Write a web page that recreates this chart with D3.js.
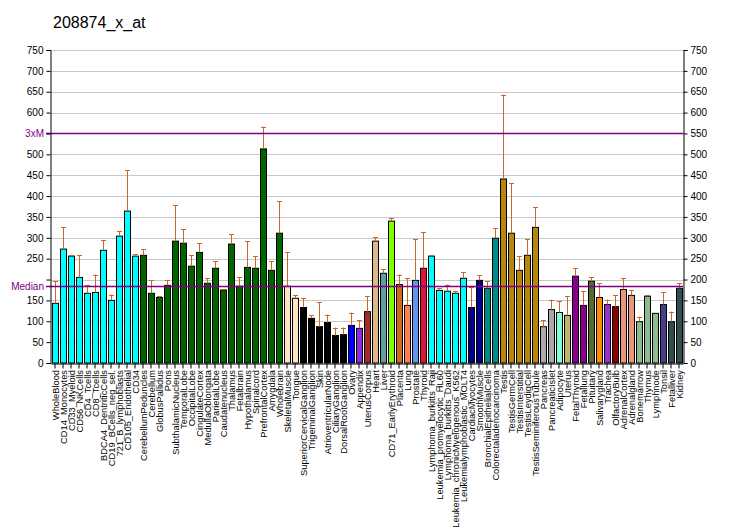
<!DOCTYPE html>
<html lang="en">
<head>
  <meta charset="UTF-8" />
  <title>208874_x_at</title>
  <script src="https://d3js.org/d3.v7.min.js"></script>
  <style>
    body {
      margin: 0;
      background: #fff;
      font-family: "Liberation Sans", Arial, sans-serif;
    }
  </style>
</head>
<body>
  <div id="chart"></div>

  <script>
    const width = 732;
    const height = 530;

    const title = "208874_x_at";

    const tissues = [
      "WholeBlood", "CD14_Monocytes", "CD33_Myeloid", "CD56_NKCells", "CD4_Tcells", "CD8_Tcells",
      "BDCA4_DentriticCells", "CD19_BCells_neg_sel.", "721_B_lymphoblasts", "CD105_Endothelial", "CD34",
      "CerebellumPeduncles", "Cerebellum", "GlobusPallidus", "Pons", "SubthalamicNucleus", "TemporalLobe",
      "OccipitalLobe", "CingulateCortex", "MedullaOblongata", "ParietalLobe", "Caudatenucleus", "Thalamus",
      "Fetalbrain", "Hypothalamus", "Spinalcord", "PrefrontalCortex", "Amygdala", "Wholebrain",
      "SkeletalMuscle", "Tongue", "SuperiorCervicalGanglion", "TrigeminalGanglion", "Skin",
      "AtrioventricularNode", "CiliaryGanglion", "DorsalRootGanglion", "Ovary", "Appendix", "UterusCorpus",
      "Heart", "Liver", "CD71_EarlyErythroid", "Placenta", "Lung", "Prostate", "Thyroid",
      "Lymphoma_burkitts_Raji", "Leukemia_promyelocytic_HL60", "Lymphoma_burkitts_Daudi",
      "Leukemia_chronicMyelogenous_K562", "Leukemialymphoblastic_MOLT4", "CardiacMyocytes", "SmoothMuscle",
      "BronchialEpithelialCells", "Colorectaladenocarcinoma", "Testis", "TestisGermCell", "TestisInterstitial",
      "TestisLeydigCell", "TestisSeminiferousTubule", "Pancreas", "PancreaticIslet", "Adipocyte", "Uterus",
      "FetalThyroid", "Fetallung", "Pituitary", "Salivarygland", "Trachea", "OlfactoryBulb", "AdrenalCortex",
      "Adrenalgland", "Bonemarrow", "Thymus", "Lymphnode", "Tonsil", "Fetalliver", "Kidney"
    ];

    const values = [
      143, 273, 256, 205, 167, 169, 270, 150, 304, 364, 256,
      258, 167, 157, 186, 292, 287, 232, 265, 191, 227, 175, 285,
      184, 229, 227, 513, 222, 311,
      184, 155, 133, 107, 87, 97, 66, 68, 90, 83, 123,
      292, 215, 340, 188, 138, 198, 227,
      256, 174, 172, 167, 203, 133, 198,
      179, 299, 441, 311, 222, 258, 325,
      87, 128, 121, 114, 208, 138, 196, 157, 140, 135, 176,
      162, 99, 160, 119, 140, 99, 179
    ];

    // upper end of each error bar (null = none drawn)
    const errTop = [
      196, 325, 259, 258, 186, 212, 294, 164, 316, 462, 260,
      272, 198, 160, 198, 378, 320, 258, 287, 203, 244, 177, 309,
      205, 292, 256, 566, 244, 388,
      265, 162, 155, 114, 145, 116, 85, 85, 121, 102, 160,
      301, 225, 347, 212, 203, 296, 313,
      258, 179, 188, 172, 217, 181, 210,
      196, 323, 643, 431, 256, 296, 373,
      102, 152, 148, 160, 227, 172, 205, 191, 152, 162, 203,
      174, 111, 162, null, 169, 123, 191
    ];

    const colors = [
      "#00FFFF", "#00FFFF", "#00FFFF", "#00FFFF", "#00FFFF", "#00FFFF", "#00FFFF", "#00FFFF", "#00FFFF", "#00FFFF", "#00FFFF",
      "#006400", "#006400", "#006400", "#006400", "#006400", "#006400", "#006400", "#006400", "#006400", "#006400", "#006400", "#006400",
      "#006400", "#006400", "#006400", "#006400", "#006400", "#006400",
      "#FFE4C4", "#FFE4C4", "#000000", "#000000", "#000000", "#000000", "#000000", "#000000", "#0000FF", "#8A2BE2", "#A52A2A",
      "#DEB887", "#5F9EA0", "#7FFF00", "#D2691E", "#FF7F50", "#6495ED", "#DC143C",
      "#00FFFF", "#00FFFF", "#00FFFF", "#00FFFF", "#00FFFF", "#00008B", "#00008B",
      "#008B8B", "#008B8B", "#B8860B", "#B8860B", "#B8860B", "#B8860B", "#B8860B",
      "#A9A9A9", "#A9A9A9", "#7FFFD4", "#BDB76B", "#8B008B", "#8B008B", "#556B2F", "#FF8C00", "#9932CC", "#8B0000", "#E9967A",
      "#E9967A", "#8FBC8F", "#8FBC8F", "#8FBC8F", "#483D8B", "#2F4F4F", "#2F4F4F"
    ];

    const median = 184;
    const yTicks = [0, 50, 100, 150, 200, 250, 300, 350, 400, 450, 500, 550, 600, 650, 700, 750];

    const margin = { left: 51, right: 49, top: 50, bottom: 167 };
    const plotW = width - margin.left - margin.right;
    const plotBottom = height - margin.bottom;

    const svg = d3.select("#chart")
      .append("svg")
      .attr("width", width)
      .attr("height", height);

    const x = d3.scaleBand()
      .domain(tissues)
      .range([margin.left, margin.left + plotW])
      .paddingInner(0.2)
      .paddingOuter(0.1);

    const y = d3.scaleLinear()
      .domain([0, 750])
      .range([plotBottom, margin.top]);

    // title
    svg.append("text")
      .attr("x", 53)
      .attr("y", 28)
      .attr("font-size", 16)
      .attr("fill", "#000")
      .text(title);

    // grid
    svg.append("g")
      .selectAll("line")
      .data(yTicks.filter(d => d > 0))
      .enter()
      .append("line")
      .attr("x1", margin.left)
      .attr("x2", margin.left + plotW)
      .attr("y1", d => Math.round(y(d)) + 0.5)
      .attr("y2", d => Math.round(y(d)) + 0.5)
      .attr("stroke", "#C8C8C8")
      .attr("stroke-width", 1);

    // bars
    svg.append("g")
      .selectAll("rect")
      .data(tissues)
      .enter()
      .append("rect")
      .attr("x", d => Math.round(x(d)) + 0.5)
      .attr("y", (d, i) => y(values[i]))
      .attr("width", 6)
      .attr("height", (d, i) => plotBottom - y(values[i]))
      .attr("fill", (d, i) => colors[i])
      .attr("stroke", "#000")
      .attr("stroke-width", 1);

    // error bars
    const errG = svg.append("g")
      .attr("stroke", "#C8682C")
      .attr("stroke-width", 1);

    tissues.forEach((name, i) => {
      if (errTop[i] == null) return;
      const cx = Math.round(x(name)) + 3.5;
      errG.append("line")
        .attr("x1", cx).attr("x2", cx)
        .attr("y1", y(values[i])).attr("y2", y(errTop[i]));
      errG.append("line")
        .attr("x1", cx - 2.5).attr("x2", cx + 2.5)
        .attr("y1", Math.round(y(errTop[i])) + 0.5).attr("y2", Math.round(y(errTop[i])) + 0.5);
    });

    // reference lines: median and 3 x median
    const refLines = [
      { label: "Median", v: median },
      { label: "3xM", v: median * 3 }
    ];

    refLines.forEach(r => {
      const yy = Math.round(y(r.v)) + 0.5;
      svg.append("line")
        .attr("x1", margin.left - 5)
        .attr("x2", margin.left + plotW)
        .attr("y1", yy).attr("y2", yy)
        .attr("stroke", "#800080")
        .attr("stroke-width", 1.3);
      svg.append("text")
        .attr("x", margin.left - 7)
        .attr("y", yy + 3.5)
        .attr("text-anchor", "end")
        .attr("font-size", 10)
        .attr("fill", "#800080")
        .text(r.label);
    });

    // left axis (labels near the reference lines are left out)
    const hidden = [200, 550];
    const leftAxis = d3.axisLeft(y)
      .tickValues(yTicks)
      .tickSize(4)
      .tickFormat(d => hidden.includes(d) ? "" : d);

    svg.append("g")
      .attr("transform", `translate(${margin.left - 0.5},0)`)
      .call(leftAxis)
      .call(g => g.selectAll("text").attr("font-size", 10).attr("fill", "#000").attr("font-family", "Liberation Sans, Arial, sans-serif"))
      .call(g => g.selectAll("line, path").attr("stroke", "#000"));

    const rightAxis = d3.axisRight(y)
      .tickValues(yTicks)
      .tickSize(4);

    svg.append("g")
      .attr("transform", `translate(${margin.left + plotW + 0.5},0)`)
      .call(rightAxis)
      .call(g => g.selectAll("text").attr("font-size", 10).attr("fill", "#000").attr("font-family", "Liberation Sans, Arial, sans-serif"))
      .call(g => g.selectAll("line, path").attr("stroke", "#000"));

    // bottom axis
    const bottomAxis = d3.axisBottom(x)
      .tickSize(5)
      .tickSizeOuter(0)
      .tickFormat("");

    svg.append("g")
      .attr("transform", `translate(0,${plotBottom + 0.5})`)
      .call(bottomAxis)
      .call(g => g.selectAll("line, path").attr("stroke", "#000"));

    // rotated category labels
    svg.append("g")
      .selectAll("text")
      .data(tissues)
      .enter()
      .append("text")
      .attr("transform", d => `translate(${x(d) + x.bandwidth() / 2 + 3.5},${plotBottom + 7}) rotate(-90)`)
      .attr("text-anchor", "end")
      .attr("font-size", 9.3)
      .attr("fill", "#000")
      .text(d => d);
  </script>
</body>
</html>
